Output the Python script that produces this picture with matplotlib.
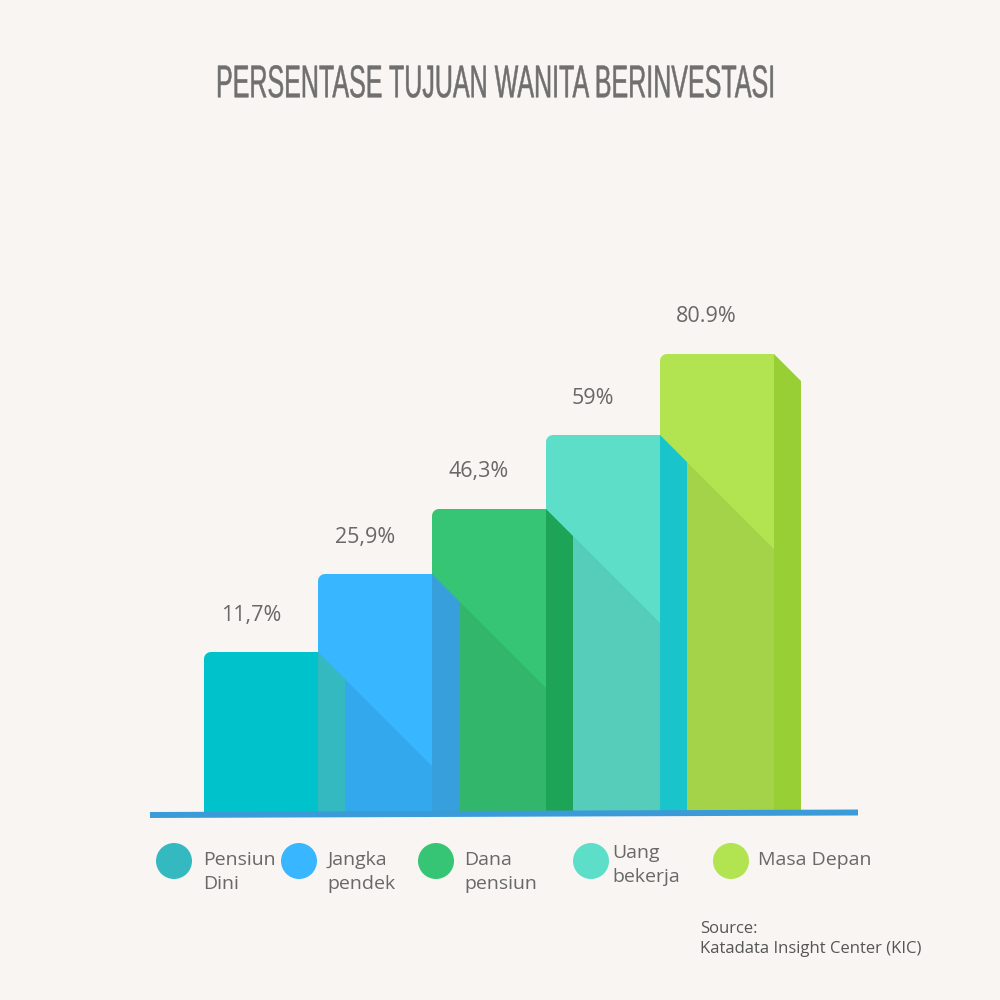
import matplotlib
matplotlib.use('Agg')
import matplotlib.pyplot as plt
from matplotlib.patches import Polygon, Circle
from matplotlib.patheffects import AbstractPathEffect
from matplotlib.transforms import Affine2D
import numpy as np

# data
categories = ['Pensiun\nDini', 'Jangka\npendek', 'Dana\npensiun', 'Uang\nbekerja', 'Masa Depan']
value_labels = ['11,7%', '25,9%', '46,3%', '59%', '80.9%']
# bar heights as drawn in the infographic (not to scale with the printed values)
bar_heights = [160, 238, 303, 377, 458]

front_colors = ['#00c2cb', '#38b6ff', '#36c574', '#5ddec9', '#b2e451']
side_colors = ['#35b9c0', '#379fdb', '#1da456', '#19c4cb', '#97cf35']
legend_colors = ['#35b9c0', '#38b6ff', '#36c574', '#5ddec9', '#b2e451']

BG = '#f8f5f2'
TXT = '#686868'
plt.rcParams['font.family'] = ['Open Sans', 'DejaVu Sans']


class Squeeze(AbstractPathEffect):
    """Scale the glyphs around a pixel position (narrow, tall title look)."""
    def __init__(self, sx, sy, cx, cy, stroke=0.0):
        super().__init__()
        self.sx, self.sy, self.cx, self.cy, self.stroke = sx, sy, cx, cy, stroke

    def draw_path(self, renderer, gc, tpath, affine, rgbFace=None):
        squeeze = (Affine2D().translate(-self.cx, -self.cy)
                   .scale(self.sx, self.sy).translate(self.cx, self.cy))
        gc1 = renderer.new_gc()
        gc1.copy_properties(gc)
        gc1.set_linewidth(self.stroke)
        gc1.set_foreground(rgbFace)
        renderer.draw_path(gc1, tpath, affine + squeeze, rgbFace)
        gc1.restore()


fig = plt.figure(figsize=(10, 10), dpi=100, facecolor=BG)

# axes where 1 y-unit = 1 px and 1 x-unit = one bar pitch
pitch = 114
ax_left, ax_base, ax_w, ax_h = 150, 812, 708, 530
ax = fig.add_axes([ax_left / 1000, 1 - ax_base / 1000, ax_w / 1000, ax_h / 1000])
x0 = -(204 - ax_left) / pitch
ax.set_xlim(x0, x0 + ax_w / pitch)
ax.set_ylim(0, ax_h)
ax.axis('off')

depth = 27 / pitch   # side face width (x units)
drop = 27            # 45 degree chamfer (y units = px)
r = 7                # corner radius px
bottom = -1


def front_poly(x, h):
    t = np.linspace(np.pi, np.pi / 2, 10)
    cx, cy = x + r / pitch, h - r
    arc = np.column_stack([cx + r / pitch * np.cos(t), cy + r * np.sin(t)])
    return [(x, bottom), (x, h - r)] + [tuple(p) for p in arc] + [(x + 1, h), (x + 1, bottom)]


n = len(bar_heights)
for i in reversed(range(n)):
    x = i
    h = bar_heights[i]
    ax.add_patch(Polygon(front_poly(x, h), closed=True, facecolor=front_colors[i],
                         edgecolor='none', clip_on=False))
    if i + 1 < n:
        # shadow cast on the next bar's front face
        sx, sy = x + 1 + depth, h - drop
        ex = x + 2
        ey = sy - (ex - sx) * pitch
        ax.add_patch(Polygon([(sx, sy), (ex, ey), (ex, bottom), (sx, bottom)], closed=True,
                             facecolor='black', alpha=0.075, edgecolor='none', clip_on=False))
    ax.add_patch(Polygon([(x + 1, bottom), (x + 1, h), (x + 1 + depth, h - drop),
                          (x + 1 + depth, bottom)], closed=True,
                         facecolor=side_colors[i], edgecolor='none', clip_on=False))
    ax.text(x + 0.41, h + 37, value_labels[i], ha='center', va='center',
            fontsize=15.5, color=TXT)

# base line, slightly tilted
xl = ax.get_xlim()
ax.plot(xl, [-3, -0.5], color='#3b9bd9', lw=4.3, solid_capstyle='butt', clip_on=False)

# title, condensed look
title_cx, title_cy = 495.5, 85
title = fig.text(title_cx / 1000, 1 - title_cy / 1000, 'PERSENTASE TUJUAN WANITA BERINVESTASI',
                 ha='center', va='center', fontsize=27, color='#6f6f6f',
                 family=['Liberation Sans', 'DejaVu Sans'])
w = title.get_window_extent(fig.canvas.get_renderer()).width
title.set_path_effects([Squeeze(559 / w, 33 / 27, title_cx, 1000 - title_cy, stroke=0.35)])

# legend
circle_x = [174, 299, 436, 591, 731]
text_x = [203, 327, 464, 612, 758]
text_top = [851, 851, 851, 844, 851]
for cx, tx, ty, lab, col in zip(circle_x, text_x, text_top, categories, legend_colors):
    fig.add_artist(Circle((cx / 1000, 1 - 861 / 1000), 0.018, transform=fig.transFigure,
                          facecolor=col, edgecolor='none'))
    fig.text(tx / 1000, 1 - ty / 1000, lab, ha='left', va='top', fontsize=14,
             color=TXT, linespacing=1.45)

# source
fig.text(0.700, 1 - 921 / 1000, 'Source:\nKatadata Insight Center (KIC)', ha='left', va='top',
         fontsize=12, color='#555555', linespacing=1.3)

fig.savefig('out.png', dpi=100, facecolor=BG)
plt.close(fig)
